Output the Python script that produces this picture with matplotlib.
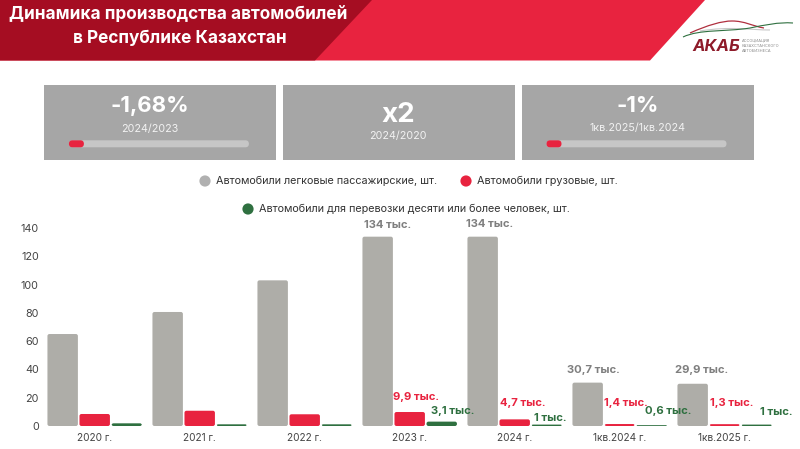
import matplotlib
matplotlib.use('Agg')
import matplotlib.pyplot as plt
from matplotlib.patches import FancyBboxPatch, Polygon, Rectangle, PathPatch
from matplotlib.path import Path

plt.rcParams['font.family'] = ['Inter', 'DejaVu Sans']

# chart values, thousands of vehicles
categories = ['2020 г.', '2021 г.', '2022 г.', '2023 г.', '2024 г.', '1кв.2024 г.', '1кв.2025 г.']
cars = [65.1, 80.7, 103.1, 134, 134, 30.7, 29.9]
trucks = [8.5, 10.8, 8.3, 9.9, 4.7, 1.4, 1.3]
buses = [1.9, 1.2, 1.2, 3.1, 1, 0.6, 1]

car_labels = [None, None, None, '134 тыс.', '134 тыс.', '30,7 тыс.', '29,9 тыс.']
truck_labels = [None, None, None, '9,9 тыс.', '4,7 тыс.', '1,4 тыс.', '1,3 тыс.']
bus_labels = [None, None, None, '3,1 тыс.', '1 тыс.', '0,6 тыс.', '1 тыс.']

legend_names = ['Автомобили легковые пассажирские, шт.', 'Автомобили грузовые, шт.',
                'Автомобили для перевозки десяти или более человек, шт.']

kpi_values = ['-1,68%', 'x2', '-1%']
kpi_periods = ['2024/2023', '2024/2020', '1кв.2025/1кв.2024']

GREY = '#AEADA8'
RED = '#E8233F'
GREEN = '#2F7040'
DARK_RED = '#A50D22'
BOX = '#A6A6A6'
TRACK = '#C6C6C6'

W, H = 800, 449
fig = plt.figure(figsize=(8, 4.49), dpi=100)

# overlay in pixel coordinates for header, cards and logo
deco = fig.add_axes([0, 0, 1, 1])
deco.set_xlim(0, W)
deco.set_ylim(H, 0)
deco.axis('off')

deco.add_patch(Polygon([(0, 0), (705, 0), (650, 60.5), (0, 60.5)], color=RED, lw=0))
deco.add_patch(Polygon([(0, 0), (372, 0), (315, 60.5), (0, 60.5)], color=DARK_RED, lw=0))
deco.text(178, 15, 'Динамика производства автомобилей', color='white', fontsize=12.4,
          fontweight='bold', ha='center', va='center')
deco.text(180, 38, 'в Республике Казахстан', color='white', fontsize=12.4,
          fontweight='bold', ha='center', va='center')

# logo
deco.add_patch(PathPatch(Path([(690, 33), (708, 25), (722, 21), (732, 21), (745, 21), (752, 26), (764, 28)],
                              [1, 4, 4, 4, 4, 4, 4]), fc='none', ec='#B0303F', lw=0.9))
deco.add_patch(PathPatch(Path([(700, 31), (730, 26), (750, 30), (770, 30)],
                              [1, 4, 4, 4]), fc='none', ec='#C8C8C8', lw=0.8))
deco.add_patch(PathPatch(Path([(683, 37), (700, 29), (725, 32), (750, 28), (765, 25), (778, 22), (793, 23)],
                              [1, 4, 4, 4, 4, 4, 4]), fc='none', ec=GREEN, lw=0.8))
deco.text(716, 46.5, 'АКАБ', color='#8E1B2A', fontsize=12, fontweight='bold', style='italic',
          ha='center', va='center')
for i, word in enumerate(['АССОЦИАЦИЯ', 'КАЗАХСТАНСКОГО', 'АВТОБИЗНЕСА']):
    deco.text(742, 40.5 + i * 5.5, word, color='#888888', fontsize=2.8, ha='left', va='center')

# KPI cards
card_x = [44.4, 283.3, 522]
card_cx = [150, 398, 638]
card_value_y = [106, 115, 106]
card_period_y = [129, 136, 128.5]
card_value_size = [16, 20, 16]
card_has_bar = [True, False, True]
for j in range(3):
    x = card_x[j]
    deco.add_patch(Rectangle((x, 85.3), 232, 74.7, color=BOX, lw=0))
    deco.text(card_cx[j], card_value_y[j], kpi_values[j], color='white', fontsize=card_value_size[j],
              fontweight='bold', ha='center', va='center')
    deco.text(card_cx[j], card_period_y[j], kpi_periods[j], color='#F2F2F2', fontsize=7.7,
              ha='center', va='center')
    if card_has_bar[j]:
        bx = x + 24.5
        deco.add_patch(FancyBboxPatch((bx, 140.3), 180, 7, boxstyle='round,pad=0,rounding_size=3.5',
                                      fc=TRACK, ec='none'))
        deco.add_patch(FancyBboxPatch((bx, 140.3), 15, 7, boxstyle='round,pad=0,rounding_size=3.5',
                                      fc=RED, ec='none'))

# legend, laid out by hand in two rows
deco.scatter([205, 466, 248], [181, 181, 209], s=65, c=['#B0B0B0', RED, GREEN], lw=0)
deco.text(216, 181, legend_names[0], fontsize=7.8, color='#333333', va='center')
deco.text(477, 181, legend_names[1], fontsize=7.8, color='#333333', va='center')
deco.text(259, 209, legend_names[2], fontsize=7.8, color='#333333', va='center')

# chart axes: one category step is 105 px, 1 unit is 1.413 px
ax = fig.add_axes([42.2 / W, (H - 426) / H, 735 / W, 197.8 / H])
ax.patch.set_alpha(0)
ax.set_xlim(-0.5, 6.5)
ax.set_ylim(0, 140)
for side in ax.spines.values():
    side.set_visible(False)
ax.set_yticks(range(0, 141, 20))
ax.set_xticks(range(len(categories)))
ax.set_xticklabels(categories)
ax.tick_params(length=0, colors='#444444')
ax.tick_params(axis='x', pad=5, labelsize=7.3)
ax.tick_params(axis='y', pad=2.5, labelsize=7.8)

BAR_W = 0.29
STEP = 0.305
SX = 105.0
SY = 197.8 / 140


def rounded_bars(values, offset, color):
    for i, v in enumerate(values):
        r_px = min(2.0, v * SY)
        ax.add_patch(FancyBboxPatch((i + offset - BAR_W / 2, 0), BAR_W, v,
                                    boxstyle=f'round,pad=0,rounding_size={r_px / SX}',
                                    mutation_aspect=SX / SY, fc=color, ec='none'))


rounded_bars(cars, -STEP, GREY)
rounded_bars(trucks, 0, RED)
rounded_bars(buses, STEP, GREEN)

# value labels, nudged in pixels off the bar tops as in the original slide
car_dx = [0, 0, 0, 10, 7, 6, 9]
car_dy = [0, 0, 0, 11.7, 12.7, 12.6, 13.8]
truck_dx = [0, 0, 0, 6, 8, 6, 7]
truck_dy = [0, 0, 0, 15, 16.4, 21, 21]
bus_dx = [0, 0, 0, 11, 4, 16, 20]
bus_dy = [0, 0, 0, 10.6, 6.6, 14, 12.6]


def value_labels(labels, values, offset, dx, dy, color):
    for i, label in enumerate(labels):
        if label:
            ax.annotate(label, (i + offset, values[i]), xytext=(dx[i], dy[i]),
                        textcoords='offset pixels', ha='center', va='center', color=color,
                        fontsize=8.1, fontweight='bold', annotation_clip=False)


value_labels(car_labels, cars, -STEP, car_dx, car_dy, '#7F7F7F')
value_labels(truck_labels, trucks, 0, truck_dx, truck_dy, RED)
value_labels(bus_labels, buses, STEP, bus_dx, bus_dy, GREEN)

fig.savefig('out.png', dpi=100)
